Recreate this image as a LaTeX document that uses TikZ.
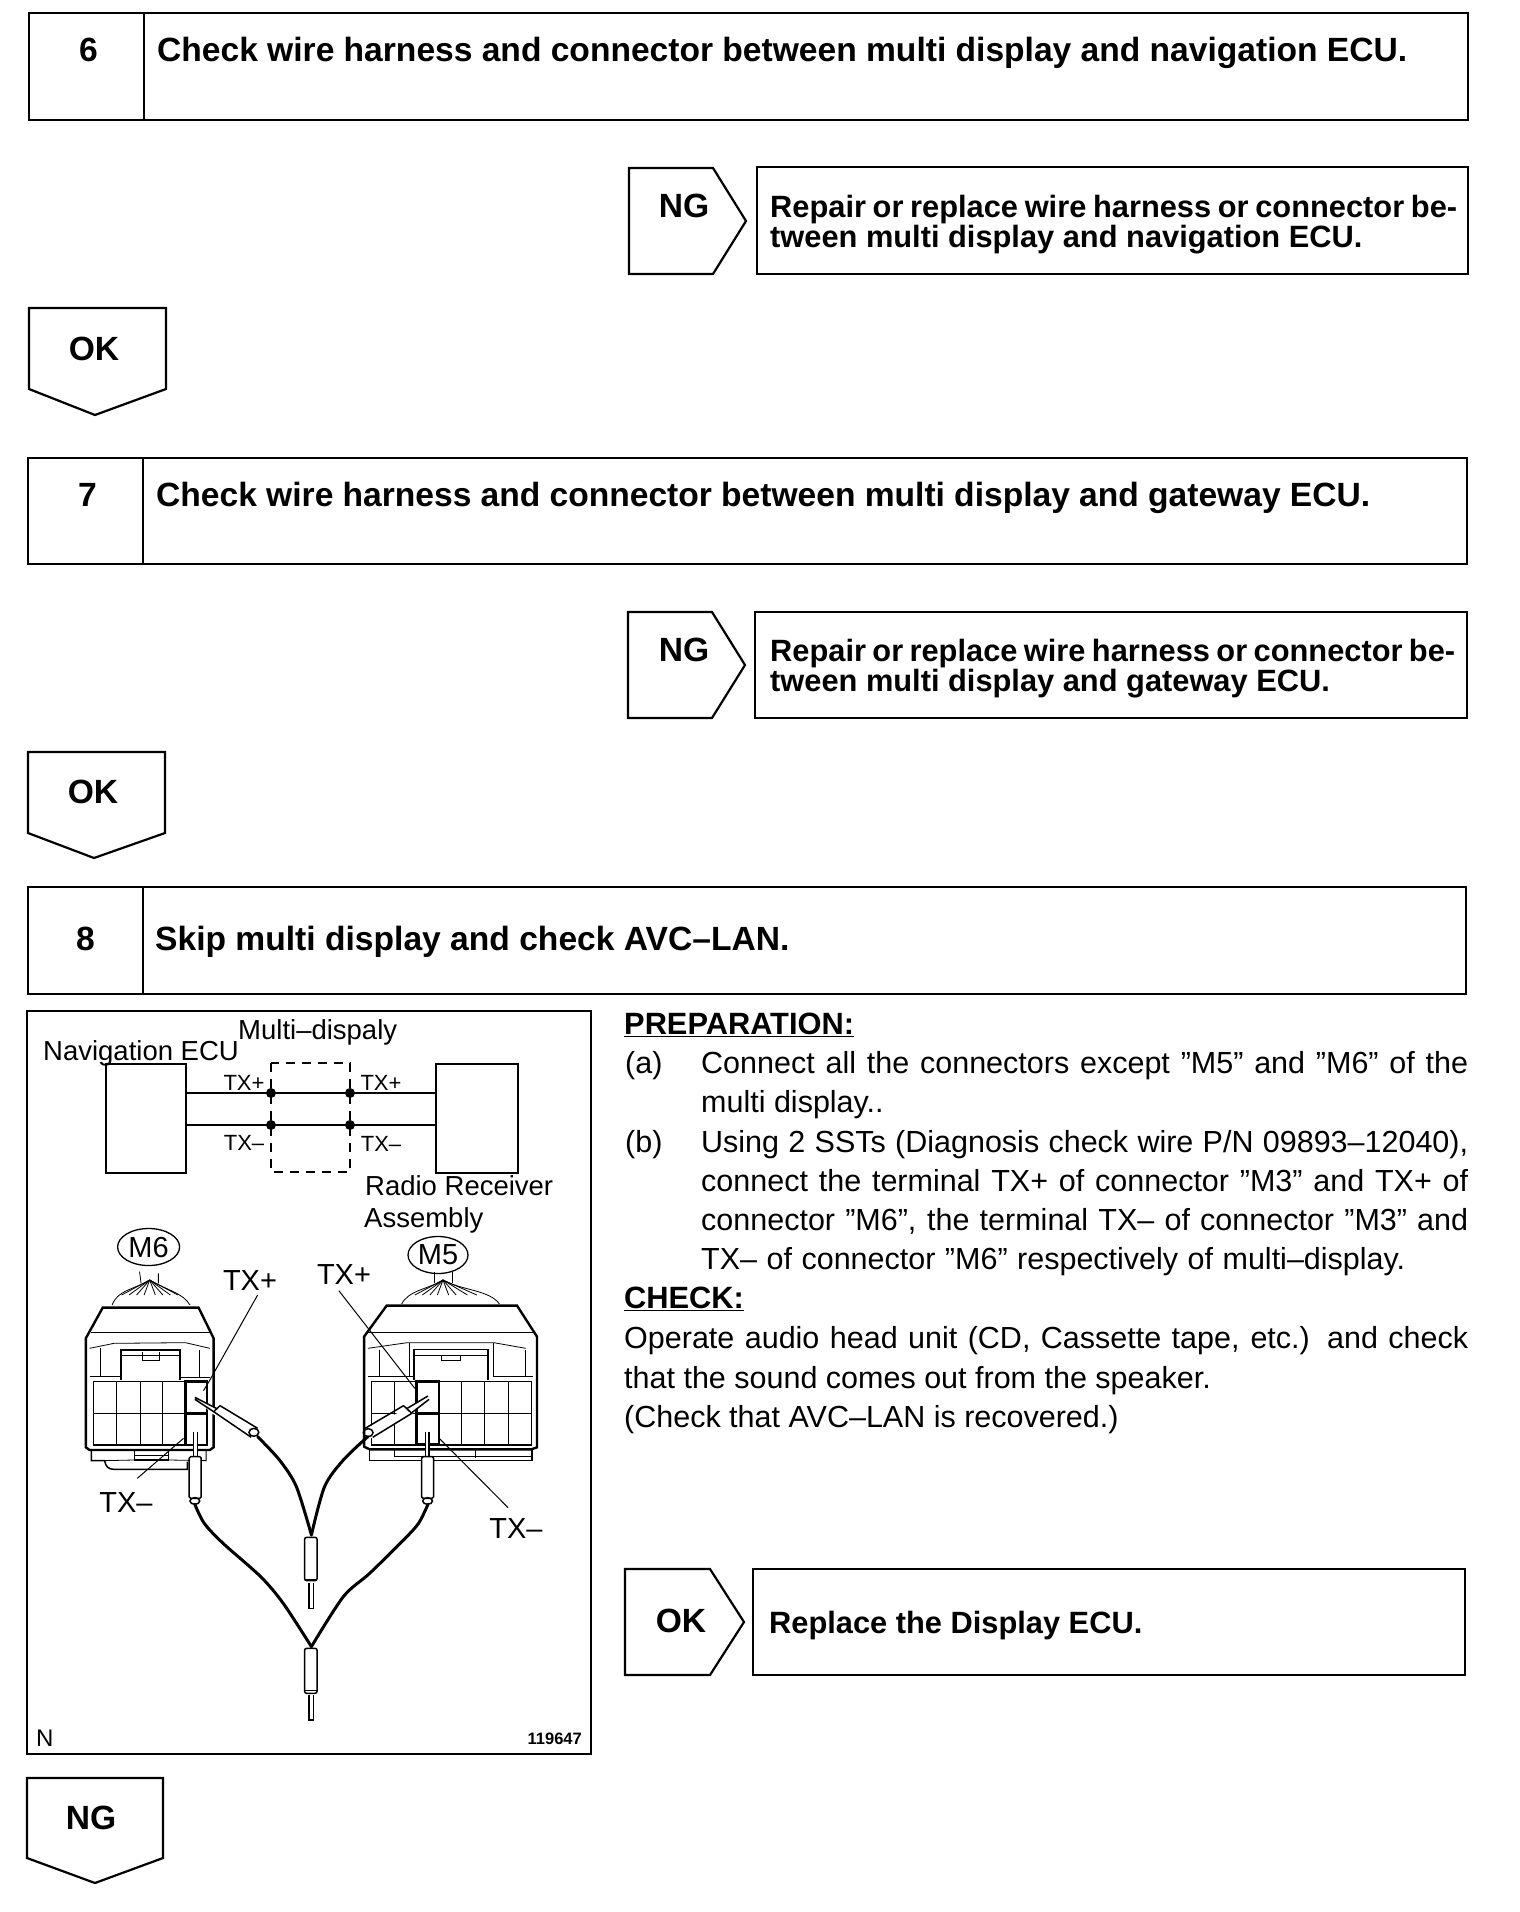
\documentclass[tikz,border=0pt]{standalone}
\usepackage{fontspec}
\setmainfont{Liberation Sans}
\usetikzlibrary{shapes.geometric}
\newcommand{\fitl}[2]{\makebox[#1pt][s]{#2}}
\tikzset{
  box/.style={draw=black,line width=2.2pt},
  title/.style={anchor=west,inner sep=0pt,text height=30pt,text depth=6.4pt,font=\fontsize{33.6}{33.6}\bfseries\selectfont},
  sub/.style={anchor=west,inner sep=0pt,text height=30pt,text depth=7.6pt,font=\fontsize{30.8}{30.8}\bfseries\selectfont},
  body/.style={anchor=west,inner sep=0pt,text height=28pt,text depth=6.6pt,font=\fontsize{30.5}{30.5}\selectfont},
  lab/.style={anchor=west,inner sep=0pt,text height=26pt,text depth=6pt,font=\fontsize{27.5}{27.5}\selectfont},
  small/.style={inner sep=0pt,font=\fontsize{22}{22}\selectfont},
  mid/.style={inner sep=0pt,font=\fontsize{29}{29}\selectfont},
  thin/.style={draw=black,line width=0.8pt},
  med/.style={draw=black,line width=1.5pt},
  thick1/.style={draw=black,line width=2.4pt},
  wire/.style={draw=black,line width=3pt,line cap=round},
  leader/.style={draw=black,line width=1pt},
  dot/.style={circle,fill=black,inner sep=0pt,minimum size=10pt},
  conn/.style={draw=black,ellipse,line width=1.3pt,inner sep=0pt,font=\fontsize{29}{29}\selectfont}
}
\begin{document}
\begin{tikzpicture}[x=1pt,y=-1pt]
\useasboundingbox (0,0) rectangle (1520,1912);
\fill[white] (0,0) rectangle (1520,1912);
% Step 6
\draw[box] (29,13) rectangle (1468,120);
\draw[box] (144,13) -- (144,120);
\node[title] (n6) at (79,50) {6};
\node[title] (t6) at (157,50) {\fitl{1250}{Check wire harness and connector between multi display and navigation ECU.}};
\draw[box] (629,168) -- (713,168) -- (746,221) -- (713,274) -- (629,274) -- cycle;
\draw[box] (757,167) rectangle (1468,274);
\node[title,anchor=center] (ng6) at (684,206) {NG};
\node[sub] (r6a) at (770,206) {\fitl{687}{Repair or replace wire harness or connector be-}};
\node[sub] (r6b) at (770,236) {tween multi display and navigation ECU.};
\draw[box] (29,308) -- (166,308) -- (166,389) -- (95,415) -- (29,389) -- cycle;
\node[title,anchor=center] (ok6) at (94,349) {OK};
% Step 7
\draw[box] (28,458) rectangle (1467,564);
\draw[box] (143,458) -- (143,564);
\node[title] (n7) at (78,495) {7};
\node[title] (t7) at (156,495) {\fitl{1214}{Check wire harness and connector between multi display and gateway ECU.}};
\draw[box] (628,612) -- (712,612) -- (745,665) -- (712,718) -- (628,718) -- cycle;
\draw[box] (755,612) rectangle (1467,718);
\node[title,anchor=center] (ng7) at (684,650) {NG};
\node[sub] (r7a) at (770,650) {\fitl{685}{Repair or replace wire harness or connector be-}};
\node[sub] (r7b) at (770,680) {tween multi display and gateway ECU.};
\draw[box] (28,752) -- (165,752) -- (165,833) -- (94,858) -- (28,833) -- cycle;
\node[title,anchor=center] (ok7) at (93,792) {OK};
% Step 8
\draw[box] (28,887) rectangle (1466,994);
\draw[box] (143,887) -- (143,994);
\node[title] (n8) at (76,939) {8};
\node[title] (t8) at (155,939) {Skip multi display and check AVC–LAN.};
% Right text
\node[body,font=\fontsize{30.8}{30.8}\bfseries\selectfont] (prep) at (624,1024) {\underline{PREPARATION:}};
\node[body] (pa) at (625,1063) {(a)};
\node[body] (pa1) at (701,1063) {\fitl{767}{Connect all the connectors except ”M5” and ”M6” of the}};
\node[body] (pa2) at (701,1102) {multi display..};
\node[body] (pb) at (625,1142) {(b)};
\node[body] (pb1) at (701,1142) {\fitl{767}{Using 2 SSTs (Diagnosis check wire P/N 09893–12040),}};
\node[body] (pb2) at (701,1181) {\fitl{767}{connect the terminal TX+ of connector ”M3” and TX+ of}};
\node[body] (pb3) at (701,1220) {\fitl{767}{connector ”M6”, the terminal TX– of connector ”M3” and}};
\node[body] (pb4) at (701,1259) {\fitl{704}{TX– of connector ”M6” respectively of multi–display.}};
\node[body,font=\fontsize{30.8}{30.8}\bfseries\selectfont] (chk) at (624,1298) {\underline{CHECK:}};
\node[body] (c1) at (624,1338) {\fitl{844}{Operate audio head unit (CD, Cassette tape, etc.) and check}};
\node[body] (c2) at (624,1378) {that the sound comes out from the speaker.};
\node[body] (c3) at (624,1417) {(Check that AVC–LAN is recovered.)};
% OK replace
\draw[box] (625,1569) -- (710,1569) -- (744,1622) -- (710,1675) -- (625,1675) -- cycle;
\draw[box] (753,1569) rectangle (1465,1675);
\node[title,anchor=center] (ok8) at (681,1621) {OK};
\node[sub] (rep) at (769,1622) {Replace the Display ECU.};
% NG bottom
\draw[box] (27,1778) -- (163,1778) -- (163,1858) -- (95,1883) -- (27,1858) -- cycle;
\node[title,anchor=center] (ng8) at (91,1818) {NG};
% Figure
\draw[box] (27,1011) rectangle (591,1754);
\node[draw=black,line width=2.4pt,minimum width=80pt,minimum height=109pt,inner sep=0pt,anchor=north west] (nav) at (105,1063) {};
\node[draw=black,line width=2.4pt,minimum width=82pt,minimum height=109pt,inner sep=0pt,anchor=north west] (rad) at (435,1063) {};
\draw[draw=black,line width=1.5pt,dash pattern=on 9pt off 7pt] (271,1063) rectangle (350,1172);
\coordinate (a1) at (186,1093); \coordinate (a2) at (435,1093);
\coordinate (b1) at (186,1125); \coordinate (b2) at (435,1125);
\draw[med,line width=2pt] (a1) -- (a2);
\draw[med,line width=2pt] (b1) -- (b2);
\node[dot] (d1) at (271,1093) {}; \node[dot] (d2) at (350,1093) {};
\node[dot] (d3) at (271,1125) {}; \node[dot] (d4) at (350,1125) {};
\node[lab] (lnav) at (43,1050) {Navigation ECU};
\node[lab] (lmul) at (238,1029) {Multi–dispaly};
\node[lab] (lrad) at (365,1185) {Radio Receiver};
\node[lab] (lass) at (364,1217) {Assembly};
\node[small] (s1) at (244,1083) {TX+};
\node[small] (s2) at (381,1083) {TX+};
\node[small] (s3) at (244,1143) {TX–};
\node[small] (s4) at (381,1144) {TX–};
\node[conn,minimum width=62pt,minimum height=37pt] (m6) at (148.6,1247) {M6};
\node[conn,minimum width=60pt,minimum height=37pt] (m5) at (438,1255) {M5};
\node[mid] (t1) at (250,1281) {TX+};
\node[mid] (t2) at (344,1275) {TX+};
\node[mid] (t3) at (126,1503) {TX–};
\node[mid] (t4) at (516,1529) {TX–};
\node[lab,font=\fontsize{24}{24}\selectfont] (ln) at (36,1736) {N};
\node[inner sep=0pt,anchor=east,font=\fontsize{16.5}{16.5}\bfseries\selectfont] (lid) at (582,1739) {119647};
% connector drawing, in crop units
\begin{scope}[shift={(20,1240)},x=0.376pt,y=-0.3333pt]
% left wires fan
\draw[thin] (318,95) -- (322,130) (368,100) -- (368,130);
\draw[thin] (345,120) .. controls (300,150) and (260,150) .. (245,195);
\draw[thin] (345,120) .. controls (390,150) and (435,160) .. (452,195);
\foreach \e in {270,290,310,330}{\draw[thin] (345,120) -- (\e,165);}
\foreach \e in {360,380,400,420}{\draw[thin] (345,120) -- (\e,165);}
% left body
\draw[thick1] (175,295) -- (220,203) -- (475,203) -- (515,295) -- (515,622) -- (505,630) -- (185,630) -- (175,622) -- cycle;
\draw[med] (190,277) -- (505,277);
\draw[thin] (185,325) -- (250,310) -- (440,308) -- (505,325);
\draw[med] (268,420) -- (268,330) -- (425,330) -- (425,420);
\draw[thin] (268,345) -- (425,345);
\draw[thin] (325,335) -- (325,362) -- (372,362) -- (372,335);
\draw[thin] (215,325) -- (215,410) (478,330) -- (478,410);
\draw[thin] (185,410) -- (268,410) (425,412) -- (505,412);
\draw[med] (195,425) rectangle (497,615);
\draw[thin] (195,520) -- (497,520);
\draw[thin] (257,425) -- (257,615) (320,425) -- (320,615) (378,425) -- (378,615);
\draw[thick1] (440,425) rectangle (497,615);
\draw[thick1] (440,520) -- (497,520);
\draw[med] (190,630) -- (190,662) -- (225,662) .. controls (228,680) and (235,688) .. (250,688) -- (445,688) -- (445,665);
\draw[med] (305,630) -- (305,660) -- (395,660) -- (395,630);
\draw[thin] (305,645) -- (395,645);
\draw[thin] (225,662) -- (305,660) (395,660) -- (495,662) -- (495,630);
% right wires fan
\draw[thin] (1103,95) -- (1103,130) (1150,95) -- (1150,130);
\draw[thin] (1125,120) .. controls (1080,150) and (1035,150) .. (1015,192);
\draw[thin] (1125,120) .. controls (1170,150) and (1250,150) .. (1275,192);
\foreach \e in {1050,1070,1090,1110}{\draw[thin] (1125,120) -- (\e,165);}
\foreach \e in {1140,1160,1190,1215}{\draw[thin] (1125,120) -- (\e,165);}
% right body
\draw[thick1] (915,290) -- (975,197) -- (1322,197) -- (1375,290) -- (1375,622) -- (1360,628) -- (930,628) -- (915,620) -- cycle;
\draw[med] (925,277) -- (1365,277);
\draw[thin] (925,325) -- (1030,308) -- (1260,308) -- (1345,325);
\draw[med] (1048,420) -- (1048,328) -- (1245,328) -- (1245,420);
\draw[thin] (1048,345) -- (1245,345);
\draw[thin] (1122,345) -- (1122,362) -- (1170,362) -- (1170,345);
\draw[thin] (955,330) -- (955,410) (1345,330) -- (1345,410);
\draw[thin] (925,410) -- (1048,410) (1260,410) -- (1365,410) (1260,310) -- (1260,410) (1035,310) -- (1035,410);
\draw[med] (935,425) rectangle (1360,615);
\draw[thin] (935,520) -- (1360,520);
\draw[thin] (995,425) -- (995,615) (1175,425) -- (1175,615) (1235,425) -- (1235,615) (1298,425) -- (1298,615);
\draw[thick1] (1055,425) rectangle (1115,612);
\draw[thick1] (1055,520) -- (1115,520);
\draw[med] (930,628) -- (930,662) -- (1362,662) -- (1362,628);
\draw[thin] (995,628) -- (995,650) -- (1362,650) (1210,628) -- (1210,655);
% leaders
\draw[leader] (632,165) -- (505,420) -- (488,452);
\draw[leader] (848,152) -- (1050,445);
\draw[leader] (312,715) -- (435,595);
\draw[leader] (1298,803) -- (1115,595);
% upper probes
\fill[white] (465,472) -- (520,505) -- (635,570) -- (620,595) -- (510,520) -- cycle;
\draw[med] (465,472) -- (522,505) (465,478) -- (515,515);
\draw[med] (532,497) -- (632,565) (515,515) -- (615,592) (532,497) -- (515,515);
\draw[med] (622,577) circle[x radius=13,y radius=12];
\fill[white] (1085,468) -- (1030,505) -- (920,565) -- (935,595) -- (1042,522) -- cycle;
\draw[med] (1085,468) -- (1030,505) (1088,478) -- (1042,518);
\draw[med] (1020,497) -- (918,565) (1042,520) -- (938,592) (1020,497) -- (1042,520);
\draw[med] (926,578) circle[x radius=13,y radius=12];
% lower probes
\fill[white] (462,575) rectangle (472,650);
\draw[med] (462,575) -- (462,650) (472,575) -- (472,650);
\filldraw[fill=white,draw=black,line width=1.5pt,rounded corners=1.5pt] (450,650) rectangle (482,775);
\draw[med] (465,783) circle[x radius=13,y radius=10];
\fill[white] (1078,575) rectangle (1088,650);
\draw[med] (1078,575) -- (1078,650) (1088,575) -- (1088,650);
\filldraw[fill=white,draw=black,line width=1.5pt,rounded corners=1.5pt] (1068,650) rectangle (1100,775);
\draw[med] (1084,783) circle[x radius=13,y radius=10];
% wires
\coordinate (j1) at (775,885);
\coordinate (j2) at (775,1220);
\draw[wire] plot[smooth] coordinates {(632,590) (690,660) (735,740) (775,885)};
\draw[wire] plot[smooth] coordinates {(925,590) (860,660) (810,740) (775,885)};
\draw[wire] plot[smooth] coordinates {(465,793) (490,850) (540,910) (640,1010) (700,1090) (775,1220)};
\draw[wire] plot[smooth] coordinates {(1085,793) (1060,850) (1020,900) (930,1000) (860,1070) (775,1220)};
% lower plugs
\draw[med,rounded corners=2pt] (757,892) rectangle (790,1022);
\draw[med] (757,1018) -- (790,1018);
\draw[med] (768,1030) -- (768,1105) -- (780,1105) -- (780,1030);
\draw[med,rounded corners=2pt] (757,1225) rectangle (790,1360);
\draw[med] (757,1352) -- (790,1352);
\draw[med] (768,1365) -- (768,1440) -- (780,1440) -- (780,1365);
\end{scope}
\end{tikzpicture}
\end{document}
